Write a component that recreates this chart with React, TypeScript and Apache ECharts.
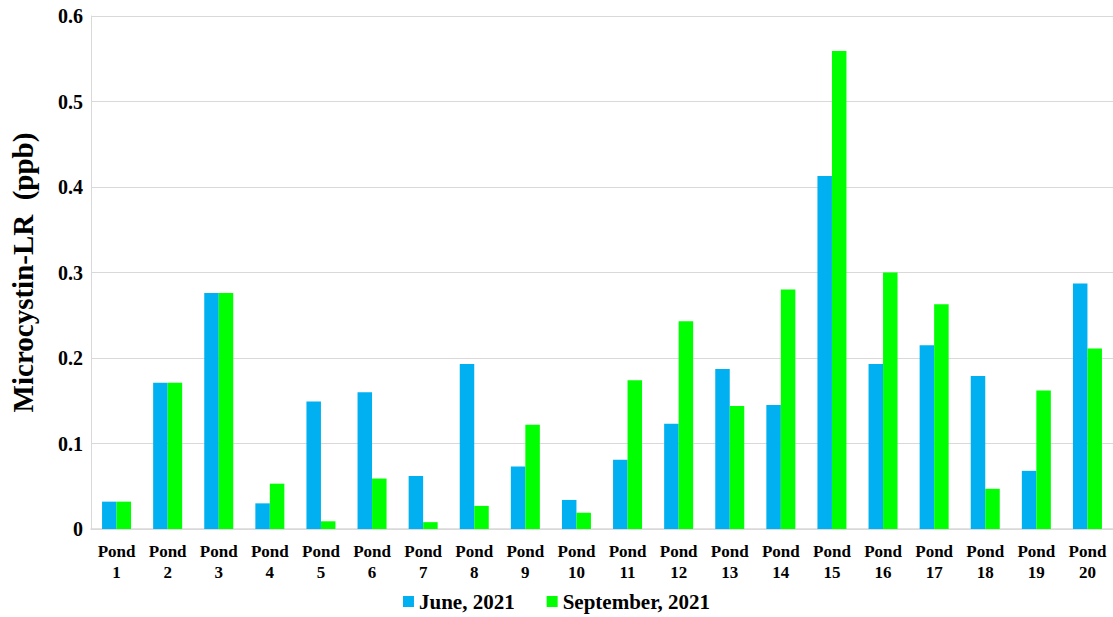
import React, { useEffect, useRef } from "react";
import * as echarts from "echarts";

const categories = [
  "Pond\n1", "Pond\n2", "Pond\n3", "Pond\n4", "Pond\n5", "Pond\n6", "Pond\n7", "Pond\n8", "Pond\n9", "Pond\n10",
  "Pond\n11", "Pond\n12", "Pond\n13", "Pond\n14", "Pond\n15", "Pond\n16", "Pond\n17", "Pond\n18", "Pond\n19", "Pond\n20",
];
const june2021 = [
  0.032, 0.171, 0.276, 0.030, 0.149, 0.160, 0.062, 0.193, 0.073, 0.034,
  0.081, 0.123, 0.187, 0.145, 0.413, 0.193, 0.215, 0.179, 0.068, 0.287,
];
const september2021 = [
  0.032, 0.171, 0.276, 0.053, 0.009, 0.059, 0.008, 0.027, 0.122, 0.019,
  0.174, 0.243, 0.144, 0.280, 0.559, 0.300, 0.263, 0.047, 0.162, 0.211,
];
const seriesNames = ["June, 2021", "September, 2021"];

const FONT = "Liberation Serif";

export default function App() {
  const ref = useRef<HTMLDivElement>(null);
  useEffect(() => {
    if (!ref.current) return;
    const chart = echarts.init(ref.current, undefined, { renderer: "svg" });
    chart.setOption({
      animation: false,
      backgroundColor: "#ffffff",
      textStyle: { fontFamily: FONT },
      grid: { left: 87, right: 0, top: 16, bottom: 88, containLabel: false },
      legend: {
        bottom: 0,
        left: "center",
        itemWidth: 11,
        itemHeight: 11,
        itemGap: 32,
        icon: "rect",
        textStyle: { fontFamily: FONT, fontWeight: "bold", fontSize: 21, color: "#000" },
        data: seriesNames,
      },
      xAxis: {
        type: "category",
        data: categories,
        axisLine: { show: true, lineStyle: { color: "#d9d9d9", width: 1.5 } },
        axisTick: { show: false },
        axisLabel: {
          interval: 0,
          margin: 12,
          formatter: (v: string) => v.split("\n").map((s) => "{a|" + s + "}").join("\n"),
          rich: {
            a: {
              fontFamily: FONT,
              fontWeight: "bold",
              fontSize: 17,
              color: "#000",
              lineHeight: 21,
            },
          },
        },
      },
      yAxis: {
        type: "value",
        min: 0,
        max: 0.6,
        interval: 0.1,
        name: "Microcystin-LR  (ppb)",
        nameLocation: "middle",
        nameGap: 54,
        nameTextStyle: { fontFamily: FONT, fontWeight: "bold", fontSize: 29, color: "#000" },
        axisLine: { show: true, lineStyle: { color: "#d9d9d9", width: 1 } },
        axisTick: { show: false },
        splitLine: { lineStyle: { color: "#d9d9d9", width: 1 } },
        axisLabel: {
          fontFamily: FONT,
          fontWeight: "bold",
          fontSize: 20,
          color: "#000",
          margin: 8,
          formatter: (v: number) => (v === 0 ? "0" : String(Math.round(v * 10) / 10)),
        },
      },
      series: [
        {
          name: seriesNames[0],
          type: "bar",
          data: june2021,
          barWidth: 14.5,
          barGap: "0%",
          itemStyle: { color: "#00B0F0" },
        },
        {
          name: seriesNames[1],
          type: "bar",
          data: september2021,
          barWidth: 14.5,
          barGap: "0%",
          itemStyle: { color: "#00FF00" },
        },
      ],
    });
    return () => chart.dispose();
  }, []);
  return (
    <div
      ref={ref}
      style={{ position: "fixed", left: 0, top: 0, width: 1113, height: 617, background: "#fff" }}
    />
  );
}
